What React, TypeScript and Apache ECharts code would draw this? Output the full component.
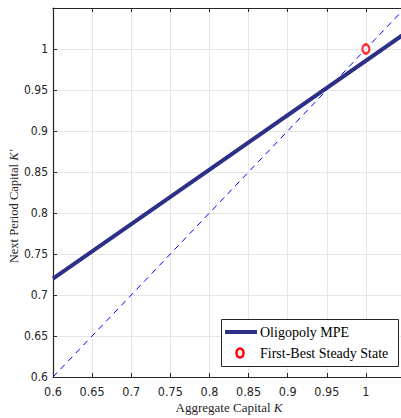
import React, { useEffect, useRef } from "react";
import * as echarts from "echarts";

const mpeLine: number[][] = [
  [0.6, 0.72],
  [1.05, 1.019],
];
const diagonal: number[][] = [
  [0.6, 0.6],
  [1.05, 1.05],
];
const firstBest: number[][] = [[1.0, 1.0]];
const seriesNames = ["Oligopoly MPE", "First-Best Steady State"];
const xTitle = "Aggregate Capital ";
const yTitle = "Next Period Capital ";

const tickFont = "'Liberation Sans Narrow', 'DejaVu Sans Condensed', 'Roboto', sans-serif";
const serifFont = "'Liberation Serif', 'DejaVu Serif', serif";

export default function App() {
  const ref = useRef<HTMLDivElement>(null);
  useEffect(() => {
    document.body.style.margin = "0";
    const chart = echarts.init(ref.current!, null, { renderer: "svg" });
    const fmt = (v: number) => (v > 1.001 ? "" : String(+v.toFixed(2)));
    const axisCommon = {
      type: "value" as const,
      min: 0.6,
      max: 1.05,
      interval: 0.05,
      axisLine: { show: true, lineStyle: { color: "#262626", width: 1.2 } },
      axisTick: { show: true, inside: true, length: 4, lineStyle: { color: "#262626" } },
    };
    chart.setOption({
      animation: false,
      backgroundColor: "#ffffff",
      grid: { left: 53, right: -4, top: 8, bottom: 41, containLabel: false, outerBoundsMode: "none" },
      xAxis: [
        {
          ...axisCommon,
          position: "bottom",
          axisLabel: { color: "#262626", fontFamily: tickFont, fontSize: 12.5, margin: 8, formatter: fmt },
          splitLine: { show: true, lineStyle: { color: "#e6e6e6", width: 1 } },
          name: xTitle + "{i|K}",
          nameLocation: "middle",
          nameGap: 24,
          nameMoveOverlap: false,
          nameTextStyle: {
            color: "#262626",
            fontFamily: serifFont,
            fontSize: 13,
            rich: { i: { fontStyle: "italic", fontFamily: serifFont, fontSize: 13, color: "#262626" } },
          },
        },
        {
          ...axisCommon,
          position: "top",
          axisLabel: { show: false },
          splitLine: { show: false },
        },
      ],
      yAxis: [
        {
          ...axisCommon,
          position: "left",
          axisLabel: { color: "#262626", fontFamily: tickFont, fontSize: 12, margin: 5, formatter: fmt },
          splitLine: { show: true, lineStyle: { color: "#e6e6e6", width: 1 } },
          name: yTitle + "{i|K′}",
          nameLocation: "middle",
          nameGap: 33,
          nameMoveOverlap: false,
          nameTextStyle: {
            color: "#262626",
            fontFamily: serifFont,
            fontSize: 12.5,
            padding: [0, 28, 0, 0],
            rich: { i: { fontStyle: "italic", fontFamily: serifFont, fontSize: 12.5, color: "#262626" } },
          },
        },
        {
          ...axisCommon,
          position: "right",
          axisLabel: { show: false },
          splitLine: { show: false },
        },
      ],
      series: [
        {
          name: "45deg",
          type: "line",
          data: diagonal,
          symbol: "none",
          lineStyle: { color: "#0000ff", width: 1, type: [6, 5] },
          z: 2,
        },
        {
          name: seriesNames[0],
          type: "line",
          data: mpeLine,
          symbol: "none",
          lineStyle: { color: "#2e2f86", width: 4 },
          z: 3,
        },
        {
          name: seriesNames[1],
          type: "scatter",
          data: firstBest,
          symbol: "circle",
          symbolSize: [7, 9],
          itemStyle: { color: "#ffffff", borderColor: "#ff0000", borderWidth: 2.5 },
          z: 4,
        },
      ],
      graphic: [
        {
          type: "rect",
          left: 221,
          top: 319,
          shape: { width: 177, height: 47 },
          style: { fill: "#ffffff", stroke: "#262626", lineWidth: 1 },
          z: 10,
        },
        {
          type: "line",
          shape: { x1: 225, y1: 332, x2: 257, y2: 332 },
          style: { stroke: "#2e2f86", lineWidth: 4 },
          z: 11,
        },
        {
          type: "ellipse",
          shape: { cx: 240, cy: 353, rx: 3.5, ry: 4.5 },
          style: { fill: "#ffffff", stroke: "#ff0000", lineWidth: 2.5 },
          z: 11,
        },
        {
          type: "text",
          x: 260,
          y: 332,
          style: {
            text: seriesNames[0],
            fontFamily: serifFont,
            fontSize: 14,
            fill: "#000000",
            verticalAlign: "middle",
          },
          z: 11,
        },
        {
          type: "text",
          x: 260,
          y: 353,
          style: {
            text: seriesNames[1],
            fontFamily: serifFont,
            fontSize: 14,
            fill: "#000000",
            verticalAlign: "middle",
          },
          z: 11,
        },
      ],
    });
    return () => chart.dispose();
  }, []);
  return <div ref={ref} style={{ width: 401, height: 418 }} />;
}
